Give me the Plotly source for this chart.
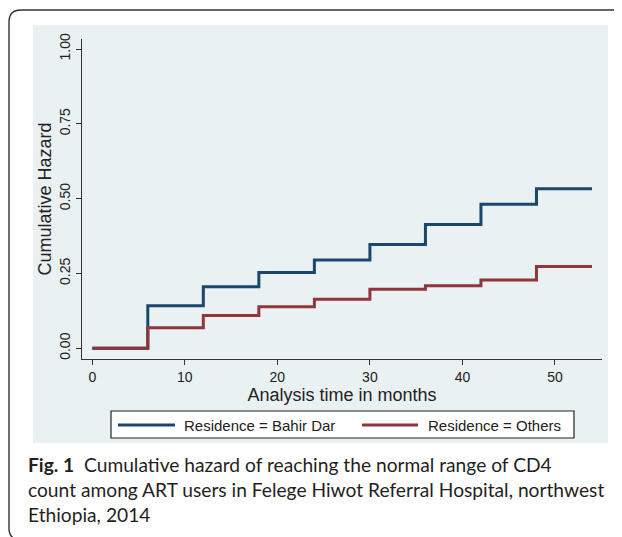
import plotly.graph_objects as go

# ---- data ----
time_months = [0, 6, 12, 18, 24, 30, 36, 42, 48, 54]
hazard_bahir_dar = [0, 0.142, 0.206, 0.253, 0.295, 0.347, 0.414, 0.481, 0.533, 0.533]
hazard_others = [0, 0.069, 0.110, 0.139, 0.164, 0.197, 0.209, 0.228, 0.273, 0.273]
series_names = ["Residence = Bahir Dar", "Residence = Others"]
series_colors = ["#1A476F", "#90353B"]
y_ticks = [0, 0.25, 0.5, 0.75, 1.0]
y_tick_text = ["0.00", "0.25", "0.50", "0.75", "1.00"]
x_ticks = [0, 10, 20, 30, 40, 50]
caption_lines = [
    "<b>Fig. 1</b>&nbsp;&nbsp;Cumulative hazard of reaching the normal range of CD4",
    "count among ART users in Felege Hiwot Referral Hospital, northwest",
    "Ethiopia, 2014",
]

# the page body adds an 8px margin; lay out in window pixels and shift
OFF = 8
W, H = 622 - OFF, 537 - OFF
PL, PR, PT, PB = 82, 602, 39, 359          # plot area in window pixels
ML, MT = PL - OFF, PT - OFF
MR, MB = W - (PR - OFF), H - (PB - OFF)
PW, PH = PR - PL, PB - PT


def px(x):
    return (x - PL) / PW


def py(y):
    return (PB - y) / PH


CHART_FONT = "Liberation Sans, Arial, sans-serif"
CAP_FONT = "Lato, Open Sans, sans-serif"

fig = go.Figure()
for yv, name, col in zip([hazard_bahir_dar, hazard_others], series_names, series_colors):
    fig.add_trace(go.Scatter(
        x=time_months, y=yv, name=name, mode="lines",
        line=dict(color=col, width=3, shape="hv"), showlegend=False,
    ))

shapes = []
# outer rounded frame
r = 12
shapes.append(dict(
    type="path", xref="paper", yref="paper", layer="above",
    path=(f"M {px(640)},{py(10)} L {px(9 + r)},{py(10)} "
          f"Q {px(9)},{py(10)} {px(9)},{py(10 + r)} "
          f"L {px(9)},{py(540 - r)} Q {px(9)},{py(540)} {px(9 + r)},{py(540)} "
          f"L {px(640)},{py(540)}"),
    line=dict(color="#333333", width=1.4),
))
# graph region background
shapes.append(dict(type="rect", xref="paper", yref="paper", layer="below",
                   x0=px(33), x1=px(608), y0=py(443), y1=py(25),
                   fillcolor="#E9F1F3", line=dict(width=0)))
# legend box
shapes.append(dict(type="rect", xref="paper", yref="paper", layer="above",
                   x0=px(111), x1=px(574), y0=py(438), y1=py(411),
                   fillcolor="white", line=dict(color="#222222", width=1.2)))
leg_line_x = [(118, 175), (362, 418)]
leg_text_x = [182, 426]
annotations = []
for (a, b), tx, name, col in zip(leg_line_x, leg_text_x, series_names, series_colors):
    shapes.append(dict(type="line", xref="paper", yref="paper", layer="above",
                       x0=px(a), x1=px(b), y0=py(425), y1=py(425),
                       line=dict(color=col, width=3)))
    annotations.append(dict(xref="paper", yref="paper", x=px(tx), y=py(425),
                            xanchor="left", yanchor="middle", showarrow=False,
                            text=name, font=dict(family=CHART_FONT, size=15, color="#222222")))

for line, yc in zip(caption_lines, [464, 489, 514]):
    annotations.append(dict(xref="paper", yref="paper", x=px(26), y=py(yc),
                            xanchor="left", yanchor="middle", showarrow=False,
                            text=line, font=dict(family=CAP_FONT, size=19.2, color="#231F20")))

fig.update_layout(
    width=W, height=H,
    margin=dict(l=ML, r=MR, t=MT, b=MB),
    paper_bgcolor="white", plot_bgcolor="white",
    font=dict(family=CHART_FONT, color="#222222"),
    shapes=shapes, annotations=annotations,
    showlegend=False,
)
fig.update_xaxes(
    range=[-1.11, 55.08], tickvals=x_ticks, showgrid=False, zeroline=False,
    showline=True, linecolor="#333333", linewidth=1.3,
    ticks="outside", ticklen=5, tickcolor="#333333", tickwidth=1.3,
    tickfont=dict(size=14, color="#222222"),
    title=dict(text="Analysis time in months", font=dict(size=18, color="#222222"), standoff=0),
)
fig.update_yaxes(
    range=[-0.0357, 1.0334], tickvals=y_ticks, ticktext=y_tick_text, tickangle=-90,
    showgrid=True, gridcolor="#E9F1F3", gridwidth=1, zeroline=False,
    showline=True, linecolor="#333333", linewidth=1.3,
    ticks="outside", ticklen=5, tickcolor="#333333", tickwidth=1.3,
    tickfont=dict(size=14, color="#222222"),
    title=dict(text="Cumulative Hazard", font=dict(size=18, color="#222222"), standoff=0),
)

fig.write_html("out.html")
